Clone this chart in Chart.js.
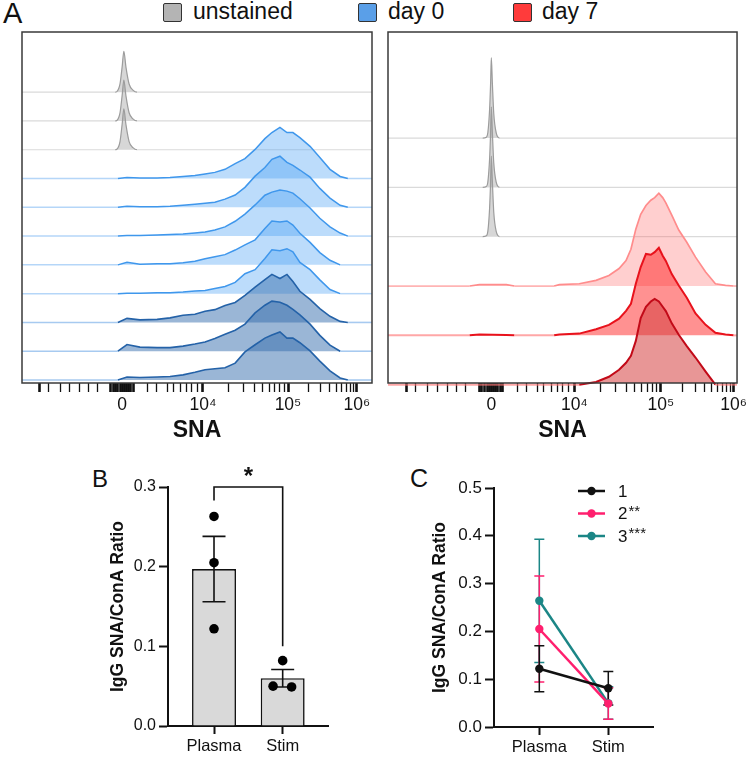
<!DOCTYPE html>
<html lang="en">
<head>
<meta charset="UTF-8">
<title>SNA staining of IgG</title>
<script src="https://cdn.jsdelivr.net/npm/chart.js"></script>
<style>
    body {
        margin: 0;
        background: #fff;
        font-family: 'Liberation Sans', Arial, sans-serif;
        color: #111;
    }
    #fig {
        position: relative;
        width: 750px;
        height: 757px;
        overflow: hidden;
    }
    #fig canvas, .letter, .sw, .key {
        position: absolute;
    }
    .letter {
        line-height: 1;
    }
    .sw {
        top: 3px;
        width: 17px;
        height: 17px;
        border: 1.5px solid #333;
        border-radius: 2px;
    }
    .key {
        top: 0px;
        font-size: 23px;
        line-height: 1;
    }
</style>
</head>
<body>
<div id="fig">
    <div class="letter" style="left:3px;top:-1px;font-size:29px">A</div>
    <span class="sw" style="left:163px;background:#b4b4b4"></span>
    <span class="key" style="left:193px">unstained</span>
    <span class="sw" style="left:358px;background:#5a9fe8"></span>
    <span class="key" style="left:388px">day 0</span>
    <span class="sw" style="left:513px;background:#ff3b3b"></span>
    <span class="key" style="left:542px">day 7</span>

    <canvas id="ridgeLeft" width="380" height="445" style="left:0;top:0"></canvas>
    <canvas id="ridgeRight" width="370" height="445" style="left:380px;top:0"></canvas>

    <div class="letter" style="left:92px;top:467px;font-size:24px">B</div>
    <canvas id="barB" width="250" height="302" style="left:90px;top:455px"></canvas>

    <div class="letter" style="left:410px;top:466px;font-size:25px">C</div>
    <canvas id="lineC" width="345" height="302" style="left:405px;top:455px"></canvas>
</div>

<script>
    Chart.defaults.font.family = "'Liberation Sans', Arial, sans-serif";
    Chart.defaults.color = '#111';
    Chart.defaults.animation = false;
    Chart.defaults.events = [];
    Chart.defaults.plugins.legend.display = false;
    Chart.defaults.plugins.tooltip.enabled = false;

    // ---- panel A: SNA histograms, x in channel units (0-1000), heights in % of mode ----
    const snaMajor = [-1, 0, 1, 2, 3];            // decades: 0, 10^4, 10^5, 10^6
    const snaLabels = ['', '0', '10⁴', '10⁵', '10⁶'];
    const snaMinor = [-0.89, -0.75, -0.64, -0.52, -0.41, -0.30,
        -0.14, -0.11, -0.08, -0.05, -0.025, 0.025, 0.05, 0.08, 0.11, 0.14,
        0.31, 0.42, 0.56, 0.63, 0.72, 0.80, 0.86, 0.93];
    const leftAnchors = [51, 286, 517, 760, 957];
    const rightAnchors = [53, 296, 534, 782, 990];

    const leftGrayBins = [266, 271, 280, 286, 291, 297, 306, 317, 329, 337];
    const leftGray = [0, 1, 16, 49, 80, 49, 16, 4, 0, 0];

    const leftBins = [274, 300, 337, 386, 423, 460, 494, 523, 551, 580, 609, 637,
        666, 694, 714, 737, 757, 774, 794, 823, 851, 880, 909, 931];
    const day0a = [0, 2, 1, 1, 2, 4, 6, 9, 12, 18, 29, 39, 57, 78, 90, 100, 90, 90, 80, 63, 41, 18, 4, 0];
    const day0b = [0, 2, 1, 1, 2, 4, 6, 8, 10, 16, 24, 39, 61, 78, 94, 100, 88, 82, 73, 59, 37, 18, 4, 0];
    const day0c = [0, 1, 1, 2, 3, 4, 6, 8, 12, 18, 29, 43, 61, 80, 86, 90, 88, 84, 73, 55, 35, 18, 6, 0];
    const day0d = [0, 5, 1, 2, 2, 4, 7, 12, 16, 20, 29, 39, 49, 71, 86, 84, 86, 78, 62, 44, 24, 9, 0, 0];
    const day0e = [0, 1, 1, 2, 2, 3, 5, 6, 10, 14, 22, 39, 47, 69, 86, 84, 88, 82, 61, 47, 27, 8, 0, 0];
    const day0f = [0, 8, 5, 6, 9, 14, 16, 22, 25, 33, 39, 53, 69, 84, 94, 86, 94, 80, 61, 45, 27, 12, 2, 0];
    const day0g = [0, 13, 8, 7, 7, 10, 14, 18, 25, 33, 41, 53, 75, 90, 98, 96, 90, 82, 71, 53, 31, 12, 0, 0];
    const day0h = [0, 6, 5, 6, 7, 10, 15, 20, 22, 24, 33, 55, 69, 82, 88, 94, 82, 82, 73, 57, 37, 18, 4, 0];

    const rightGrayBins = [271, 282, 286, 291, 294, 296, 299, 303, 310, 320, 328];
    const rightGray = [0, 1, 6, 32, 63, 92, 63, 28, 6, 0, 0];

    const rightBins = [234, 262, 339, 362, 476, 491, 548, 596, 633, 662, 682, 696, 710, 724,
        739, 753, 764, 776, 787, 796, 813, 833, 856, 881, 910, 938, 967, 990];
    const day7a = [0, 1.5, 1.5, 0, 0, 1.5, 2.6, 6.5, 12, 20, 29, 42, 65, 82, 92, 98, 101, 106, 101, 95, 81, 64, 50, 33, 16, 2.6, 0.8, 0];
    const day7b = [0, 1, 0.5, 0, 0, 1, 2, 7, 12, 19, 28, 36, 59, 78, 93, 92, 95, 100, 91, 85, 70, 57, 43, 25, 12, 3, 1, 0];
    const day7c = [0, 0, 0, 0, 0, 0, 0, 3, 9, 17, 25, 33, 50, 76, 89, 95, 98, 95, 89, 84, 70, 57, 44, 31, 15, 0, 0, 0];

    const PEAK_ROWS = 1.775; // 100% of mode, in row spacings

    const grayStyle = { line: '#9c9c9c', base: '#dadada', fill: 'rgba(150,150,150,0.38)', width: 1.2, smooth: true };
    const lightBlue = { line: '#3f97ec', base: 'rgba(90,165,240,0.45)', fill: 'rgba(64,155,244,0.35)', width: 1.5 };
    const darkBlue = { line: '#2462a8', base: 'rgba(80,150,225,0.5)', fill: 'rgba(53,109,173,0.5)', width: 1.6 };
    const red1 = { line: '#ff8c8c', base: 'rgba(255,130,130,0.6)', fill: 'rgba(255,95,95,0.3)', width: 1.7 };
    const red2 = { line: '#e8121c', base: 'rgba(255,120,120,0.65)', fill: 'rgba(255,25,25,0.48)', width: 2 };
    const red3 = { line: '#c20a18', base: 'rgba(255,120,120,0.65)', fill: 'rgba(213,64,64,0.55)', width: 2 };

    function ridge(bins, pct, row, st) {
        const pts = [{ x: 0, y: row }];
        bins.forEach((b, i) => pts.push({ x: b, y: row + pct[i] / 100 * PEAK_ROWS }));
        pts.push({ x: 1000, y: row });
        return {
            data: pts,
            order: row,
            fill: { value: row },
            backgroundColor: st.fill,
            borderColor: st.line,
            borderWidth: st.width,
            pointRadius: 0,
            tension: st.smooth ? 0.4 : 0,
            cubicInterpolationMode: st.smooth ? 'monotone' : 'default',
            clip: { left: 0, right: 0, top: 0, bottom: 4 },
            segment: {
                borderColor: ctx => (ctx.p0.parsed.y === row && ctx.p1.parsed.y === row) ? st.base : st.line
            }
        };
    }

    function toChannel(d, anchors) {
        const i = Math.min(3, Math.max(0, Math.floor(d) + 1));
        return anchors[i] + (d - (i - 1)) * (anchors[i + 1] - anchors[i]);
    }

    function snaTicks(anchors) {
        const list = snaMajor.map((d, i) => ({ value: toChannel(d, anchors), txt: snaLabels[i], big: true }));
        const minor = snaMinor.slice();
        [1, 2].forEach(dec => {
            for (let m = 2; m <= 9; m++) minor.push(dec + Math.log10(m));
        });
        minor.forEach(d => list.push({ value: toChannel(d, anchors), txt: '', big: Math.abs(d) < 0.2 }));
        return list.sort((a, b) => a.value - b.value);
    }

    const frame = {
        id: 'frame',
        afterDraw(chart) {
            const { ctx, chartArea: a } = chart;
            ctx.save();
            ctx.strokeStyle = '#3a3a3a';
            ctx.lineWidth = 1.5;
            ctx.strokeRect(a.left, a.top, a.right - a.left, a.bottom - a.top);
            ctx.restore();
        }
    };

    function ridgeChart(id, datasets, anchors, yMin, yMax, pad) {
        const tickList = snaTicks(anchors);
        return new Chart(document.getElementById(id), {
            type: 'line',
            data: { datasets: datasets },
            options: {
                responsive: false,
                layout: { padding: pad },
                scales: {
                    x: {
                        type: 'linear',
                        min: 0,
                        max: 1000,
                        afterBuildTicks: s => { s.ticks = tickList.map(t => Object.assign({}, t)); },
                        afterFit: s => { s.height = 62; },
                        ticks: {
                            autoSkip: false,
                            maxRotation: 0,
                            padding: 3,
                            font: { size: 17.5 },
                            callback: (v, i, ticks) => ticks[i].txt
                        },
                        grid: {
                            drawOnChartArea: false,
                            tickLength: 9,
                            tickColor: '#111',
                            tickWidth: ctx => (ctx.tick && ctx.tick.big) ? 2.6 : 1.3
                        },
                        border: { display: false },
                        title: {
                            display: true,
                            text: 'SNA',
                            font: { size: 23, weight: 'bold' },
                            padding: { top: 0, bottom: 1 }
                        }
                    },
                    y: { type: 'linear', display: false, min: yMin, max: yMax }
                }
            },
            plugins: [frame]
        });
    }

    const leftSets = [
        ridge(leftGrayBins, leftGray, 10, grayStyle),
        ridge(leftGrayBins, leftGray, 9, grayStyle),
        ridge(leftGrayBins, leftGray, 8, grayStyle),
        ridge(leftBins, day0a, 7, lightBlue),
        ridge(leftBins, day0b, 6, lightBlue),
        ridge(leftBins, day0c, 5, lightBlue),
        ridge(leftBins, day0d, 4, lightBlue),
        ridge(leftBins, day0e, 3, lightBlue),
        ridge(leftBins, day0f, 2, darkBlue),
        ridge(leftBins, day0g, 1, darkBlue),
        ridge(leftBins, day0h, 0, darkBlue)
    ];
    const rightSets = [
        ridge(rightGrayBins, rightGray, 5, grayStyle),
        ridge(rightGrayBins, rightGray, 4, grayStyle),
        ridge(rightGrayBins, rightGray, 3, grayStyle),
        ridge(rightBins, day7a, 2, red1),
        ridge(rightBins, day7b, 1, red2),
        ridge(rightBins, day7c, 0, red3)
    ];

    ridgeChart('ridgeLeft', leftSets, leftAnchors, -0.104, 12.09, { left: 22, right: 8, top: 32, bottom: 0 });
    ridgeChart('ridgeRight', rightSets, rightAnchors, 0.034, 7.15, { left: 8, right: 12, top: 32, bottom: 0 });

    // ---- panel B: bar + dots ----
    const groups = ['Plasma', 'Stim'];
    const ratioMean = [0.197, 0.060];
    const ratioSem = [0.041, 0.011];
    const plasmaDots = [0.263, 0.205, 0.122];
    const stimDots = [0.082, 0.050, 0.049];
    const stimJitter = [0, -0.14, 0.13];
    const sigBracket = [0.283, 0.3, 0.1]; // left drop, top, right drop

    function ratioAxis(max, fontSize, titlePad, width) {
        return {
            min: 0,
            max: max,
            afterFit: s => { s.width = width; },
            ticks: {
                stepSize: 0.1,
                padding: 3,
                font: { size: fontSize },
                callback: v => v.toFixed(1)
            },
            grid: { drawOnChartArea: false, tickLength: 9, tickColor: '#111', tickWidth: 2 },
            border: { display: true, color: '#111', width: 2 },
            title: {
                display: true,
                text: 'IgG SNA/ConA Ratio',
                font: { size: 17.5, weight: 'bold' },
                padding: { top: titlePad, bottom: 0 }
            }
        };
    }

    function groupAxis(min, max, height) {
        return {
            type: 'linear',
            min: min,
            max: max,
            offset: false,
            afterBuildTicks: s => { s.ticks = groups.map((g, i) => ({ value: i })); },
            afterFit: s => { s.height = height; },
            ticks: {
                autoSkip: false,
                maxRotation: 0,
                padding: 3,
                font: { size: 16.5 },
                callback: (v, i) => groups[i]
            },
            grid: { drawOnChartArea: false, offset: false, tickLength: 8, tickColor: '#111', tickWidth: 2 },
            border: { display: true, color: '#111', width: 2 }
        };
    }

    const barExtras = {
        id: 'barExtras',
        afterDatasetDraw(chart, args) {
            if (args.index !== 0) return;
            const { ctx, scales: { x, y } } = chart;
            ctx.save();
            ctx.strokeStyle = '#111';
            ctx.lineWidth = 1.6;
            ratioMean.forEach((m, i) => {
                const cx = x.getPixelForValue(i);
                const top = y.getPixelForValue(m + ratioSem[i]);
                const bot = y.getPixelForValue(m - ratioSem[i]);
                ctx.beginPath();
                ctx.moveTo(cx, top); ctx.lineTo(cx, bot);
                ctx.moveTo(cx - 11.5, top); ctx.lineTo(cx + 11.5, top);
                ctx.moveTo(cx - 11.5, bot); ctx.lineTo(cx + 11.5, bot);
                ctx.stroke();
            });
            ctx.restore();
        },
        afterDraw(chart) {
            const { ctx, scales: { x, y } } = chart;
            const x0 = x.getPixelForValue(0), x1 = x.getPixelForValue(1);
            const yTop = y.getPixelForValue(sigBracket[1]);
            ctx.save();
            ctx.strokeStyle = '#111';
            ctx.lineWidth = 1.6;
            ctx.beginPath();
            ctx.moveTo(x0, y.getPixelForValue(sigBracket[0]));
            ctx.lineTo(x0, yTop);
            ctx.lineTo(x1, yTop);
            ctx.lineTo(x1, y.getPixelForValue(sigBracket[2]));
            ctx.stroke();
            ctx.fillStyle = '#111';
            ctx.font = "bold 24px 'Liberation Sans', Arial, sans-serif";
            ctx.textAlign = 'center';
            ctx.textBaseline = 'middle';
            ctx.fillText('*', (x0 + x1) / 2, yTop - 10);
            ctx.restore();
        }
    };

    new Chart(document.getElementById('barB'), {
        type: 'bar',
        data: {
            datasets: [
                {
                    type: 'bar',
                    data: ratioMean.map((v, i) => ({ x: i, y: v })),
                    backgroundColor: '#d9d9d9',
                    borderColor: '#111',
                    borderWidth: 1.6,
                    barPercentage: 0.8,
                    categoryPercentage: 0.8,
                    order: 2
                },
                {
                    type: 'scatter',
                    data: plasmaDots.map(v => ({ x: 0, y: v }))
                        .concat(stimDots.map((v, i) => ({ x: 1 + stimJitter[i], y: v }))),
                    pointRadius: 4.8,
                    backgroundColor: '#000',
                    borderWidth: 0,
                    order: 1
                }
            ]
        },
        options: {
            responsive: false,
            layout: { padding: { left: 0, right: 12, top: 32, bottom: 0 } },
            scales: {
                x: groupAxis(-0.67, 1.66, 31),
                y: ratioAxis(0.3, 16, 17.5, 78)
            }
        },
        plugins: [barExtras]
    });

    // ---- panel C: donor lines with SEM ----
    const donors = ['1', '2**', '3***'];
    const donorColors = ['#111111', '#ff1f6e', '#1b8686'];
    const donorMean = [[0.122, 0.081], [0.205, 0.049], [0.264, 0.050]];
    const donorSem = [[0.048, 0.035], [0.111, 0.033], [0.129, 0.034]];

    const errorBars = {
        id: 'errorBars',
        beforeDatasetsDraw(chart) {
            const { ctx, scales: { x, y } } = chart;
            ctx.save();
            ctx.lineWidth = 1.5;
            for (let k = donorMean.length - 1; k >= 0; k--) {
                ctx.strokeStyle = donorColors[k];
                donorMean[k].forEach((m, i) => {
                    const cx = x.getPixelForValue(i);
                    const top = y.getPixelForValue(m + donorSem[k][i]);
                    const bot = y.getPixelForValue(m - donorSem[k][i]);
                    ctx.beginPath();
                    ctx.moveTo(cx, top); ctx.lineTo(cx, bot);
                    ctx.moveTo(cx - 5, top); ctx.lineTo(cx + 5, top);
                    ctx.moveTo(cx - 5, bot); ctx.lineTo(cx + 5, bot);
                    ctx.stroke();
                });
            }
            ctx.restore();
        }
    };

    const donorLegend = {
        id: 'donorLegend',
        afterDraw(chart) {
            const { ctx, chartArea: a } = chart;
            ctx.save();
            chart.data.datasets.forEach((ds, k) => {
                const yy = a.top + 3 + k * 22.5;
                const x0 = a.left + 84, x1 = a.left + 111;
                ctx.strokeStyle = ds.borderColor;
                ctx.lineWidth = 2.5;
                ctx.beginPath();
                ctx.moveTo(x0, yy); ctx.lineTo(x1, yy);
                ctx.stroke();
                ctx.fillStyle = ds.borderColor;
                ctx.beginPath();
                ctx.arc((x0 + x1) / 2, yy, 4.2, 0, Math.PI * 2);
                ctx.fill();
                const parts = ds.label.match(/^(\d+)(\**)$/);
                ctx.fillStyle = '#111';
                ctx.textBaseline = 'middle';
                ctx.textAlign = 'left';
                ctx.font = "17px 'Liberation Sans', Arial, sans-serif";
                const tx = a.left + 124;
                ctx.fillText(parts[1], tx, yy + 1);
                const w = ctx.measureText(parts[1]).width;
                ctx.font = "15px 'Liberation Sans', Arial, sans-serif";
                ctx.fillText(parts[2], tx + w + 1, yy - 2);
            });
            ctx.restore();
        }
    };

    new Chart(document.getElementById('lineC'), {
        type: 'line',
        data: {
            datasets: donors.map((d, k) => ({
                label: d,
                data: donorMean[k].map((v, i) => ({ x: i, y: v })),
                borderColor: donorColors[k],
                backgroundColor: donorColors[k],
                borderWidth: 2.5,
                pointRadius: 4.2,
                pointBorderWidth: 0,
                fill: false
            }))
        },
        options: {
            responsive: false,
            layout: { padding: { left: 0, right: 97, top: 33, bottom: 0 } },
            scales: {
                x: groupAxis(-0.657, 1.648, 30),
                y: ratioAxis(0.5, 17, 24.5, 89)
            }
        },
        plugins: [errorBars, donorLegend]
    });
</script>
</body>
</html>
